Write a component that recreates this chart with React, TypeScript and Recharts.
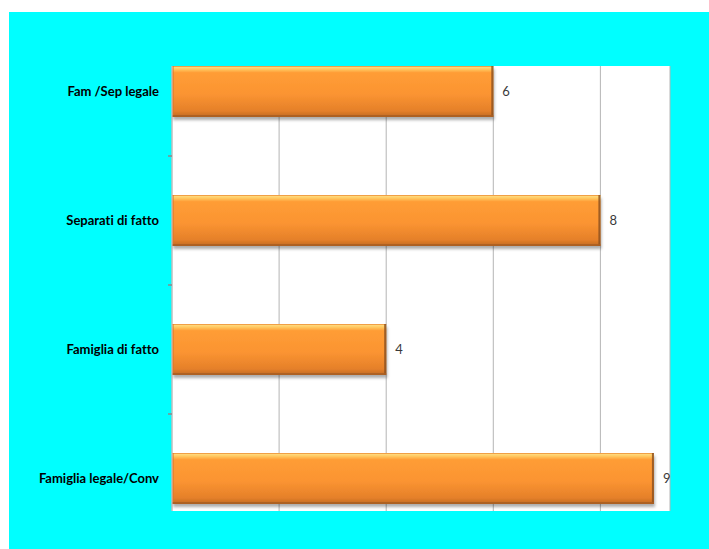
import { BarChart, Bar, XAxis, YAxis, CartesianGrid, LabelList } from "recharts";

const categories = [
  "Fam /Sep legale",
  "Separati di fatto",
  "Famiglia di fatto",
  "Famiglia legale/Conv",
];
const values = [6, 8, 4, 9];
const xTicks = [0, 2, 4, 6, 8];

const data = categories.map((name, i) => ({ name, value: values[i] }));

function OrangeBar(props: any) {
  const { x, y, width, height } = props;
  if (!width || width <= 0) return null;
  return (
    <g>
      <rect
        x={x}
        y={y}
        width={width}
        height={height}
        fill="url(#barGrad)"
        filter="url(#barShadow)"
      />
      <rect x={x} y={y} width={width} height={1} fill="#f0a046" />
      <rect x={x} y={y} width={2} height={height} fill="#d9772a" opacity={0.55} />
      <rect x={x + width - 2} y={y} width={2} height={height} fill="#8f5220" opacity={0.85} />
      <rect x={x} y={y + height - 2} width={width} height={2} fill="#a95e22" opacity={0.85} />
    </g>
  );
}

function CategoryTick(props: any) {
  const { x, y, payload, index } = props;
  return (
    <g>
      <text
        x={x}
        y={y}
        dy="0.35em"
        textAnchor="end"
        fontFamily="Lato, 'Open Sans', sans-serif"
        fontWeight={700}
        fontSize={13}
        fill="#000"
        style={{ fontVariantLigatures: "none" }}
      >
        {payload.value}
      </text>
      {index < categories.length - 1 && (
        <line
          x1={x + 9}
          x2={x + 13}
          y1={y + payload.offset}
          y2={y + payload.offset}
          stroke="#8a8a8a"
          strokeWidth={1.5}
        />
      )}
    </g>
  );
}

export default function App() {
  return (
    <div
      style={{
        position: "fixed",
        left: 9,
        top: 12,
        width: 700,
        height: 537,
        background: "#00ffff",
      }}
    >
      <BarChart
        layout="vertical"
        width={700}
        height={537}
        data={data}
        margin={{ top: 54, right: 39, bottom: 38, left: 0 }}
      >
        <defs>
          <linearGradient id="barGrad" x1="0" y1="0" x2="0" y2="1">
            <stop offset="0%" stopColor="#ffe48c" />
            <stop offset="7%" stopColor="#ffc45c" />
            <stop offset="13%" stopColor="#ff9d36" />
            <stop offset="55%" stopColor="#fb9431" />
            <stop offset="88%" stopColor="#e5802a" />
            <stop offset="100%" stopColor="#c06a22" />
          </linearGradient>
          <filter id="barShadow" x="-5%" y="-20%" width="115%" height="150%">
            <feDropShadow dx="1" dy="3" stdDeviation="1.6" floodColor="#000" floodOpacity="0.32" />
          </filter>
        </defs>
        <CartesianGrid
          horizontal={false}
          vertical
          stroke="#b4b4b4"
          fill="#ffffff"
          fillOpacity={1}
        />
        <XAxis type="number" domain={[0, 9.3]} ticks={xTicks} hide />
        <YAxis
          type="category"
          dataKey="name"
          width={163}
          padding={{ top: -39, bottom: -32 }}
          tickSize={0}
          tickMargin={13}
          tickLine={false}
          axisLine={{ stroke: "#c4c4c4" }}
          tick={<CategoryTick />}
          interval={0}
        />
        <Bar
          dataKey="value"
          barSize={51}
          shape={<OrangeBar />}
          isAnimationActive={false}
        >
          <LabelList
            dataKey="value"
            position="right"
            offset={9}
            fill="#3a3a3a"
            fontSize={13}
            fontFamily="Lato, 'Open Sans', sans-serif"
          />
        </Bar>
      </BarChart>
    </div>
  );
}
